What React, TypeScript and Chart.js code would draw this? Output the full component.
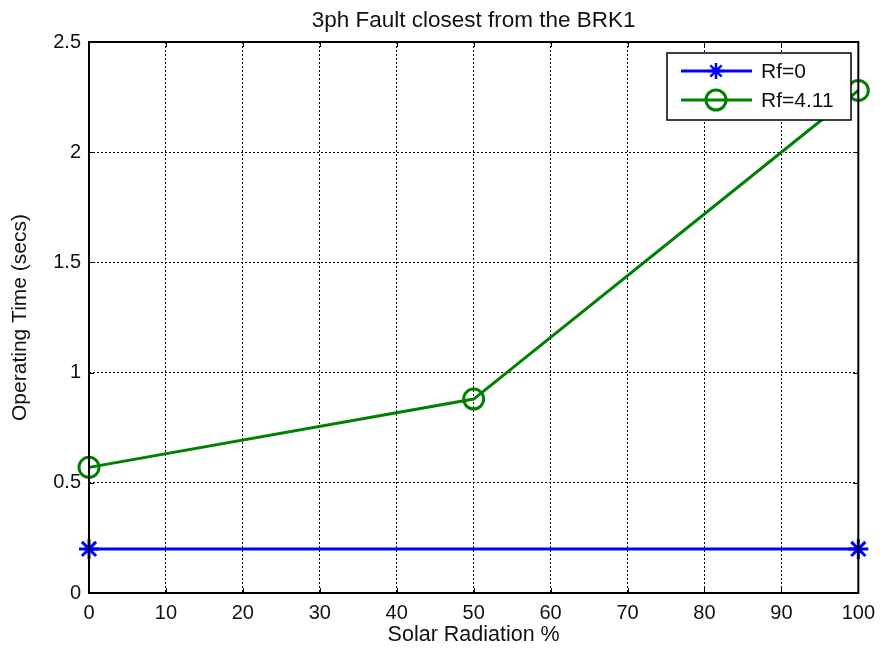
import React, { useEffect, useRef } from "react";
import { Chart, registerables } from "chart.js";

Chart.register(...registerables);

const titleText = "3ph Fault closest from the BRK1";
const xAxisTitle = "Solar Radiation %";
const yAxisTitle = "Operating Time (secs)";

const rf0Label = "Rf=0";
const rf0X = [0, 100];
const rf0Y = [0.2, 0.2];

const rf411Label = "Rf=4.11";
const rf411X = [0, 50, 100];
const rf411Y = [0.57, 0.88, 2.28];

const xTicks = [0, 10, 20, 30, 40, 50, 60, 70, 80, 90, 100];
const yTicks = [0, 0.5, 1, 1.5, 2, 2.5];

const BLUE = "#0000ff";
const GREEN = "#008000";
const FONT = "'Liberation Sans', Arial, sans-serif";

const titlePlugin = {
  id: "axesTitle",
  afterDraw(chart: any) {
    const { ctx, chartArea: a } = chart;
    ctx.save();
    ctx.fillStyle = "#111";
    ctx.font = `22.5px ${FONT}`;
    ctx.textAlign = "center";
    ctx.textBaseline = "alphabetic";
    ctx.fillText(titleText, (a.left + a.right) / 2, 27);
    ctx.restore();
  },
};

const framePlugin = {
  id: "frame",
  afterDatasetsDraw(chart: any) {
    const { ctx, chartArea: a, scales } = chart;
    ctx.save();
    ctx.strokeStyle = "#000";
    ctx.lineWidth = 1;
    const tl = 5;
    xTicks.forEach((v) => {
      const x = Math.round(scales.x.getPixelForValue(v)) + 0.5;
      ctx.beginPath();
      ctx.moveTo(x, a.bottom);
      ctx.lineTo(x, a.bottom - tl);
      ctx.moveTo(x, a.top);
      ctx.lineTo(x, a.top + tl);
      ctx.stroke();
    });
    yTicks.forEach((v) => {
      const y = Math.round(scales.y.getPixelForValue(v)) + 0.5;
      ctx.beginPath();
      ctx.moveTo(a.left, y);
      ctx.lineTo(a.left + tl, y);
      ctx.moveTo(a.right, y);
      ctx.lineTo(a.right - tl, y);
      ctx.stroke();
    });
    ctx.lineWidth = 2;
    ctx.strokeRect(a.left, a.top, a.right - a.left, a.bottom - a.top);
    ctx.restore();
  },
};

const legendPlugin = {
  id: "innerLegend",
  afterDraw(chart: any) {
    const { ctx } = chart;
    const bx = 667, by = 53, bw = 184, bh = 67;
    ctx.save();
    ctx.fillStyle = "#fff";
    ctx.fillRect(bx, by, bw, bh);
    ctx.strokeStyle = "#000";
    ctx.lineWidth = 1.5;
    ctx.strokeRect(bx, by, bw, bh);
    const rows = [
      { label: rf0Label, color: BLUE, style: "star", y: by + 18 },
      { label: rf411Label, color: GREEN, style: "circle", y: by + 47 },
    ];
    rows.forEach((r) => {
      ctx.strokeStyle = r.color;
      ctx.lineWidth = 3;
      ctx.beginPath();
      ctx.moveTo(bx + 14, r.y);
      ctx.lineTo(bx + 85, r.y);
      ctx.stroke();
      const cx = bx + 49;
      if (r.style === "star") {
        ctx.lineWidth = 2.5;
        const rad = 8;
        ctx.beginPath();
        for (let i = 0; i < 4; i++) {
          const ang = (i * Math.PI) / 4;
          ctx.moveTo(cx - rad * Math.cos(ang), r.y - rad * Math.sin(ang));
          ctx.lineTo(cx + rad * Math.cos(ang), r.y + rad * Math.sin(ang));
        }
        ctx.stroke();
      } else {
        ctx.lineWidth = 3;
        ctx.beginPath();
        ctx.arc(cx, r.y, 10, 0, Math.PI * 2);
        ctx.stroke();
      }
      ctx.fillStyle = "#111";
      ctx.font = `21px ${FONT}`;
      ctx.textBaseline = "middle";
      ctx.textAlign = "left";
      ctx.fillText(r.label, bx + 94, r.y + 1);
    });
    ctx.restore();
  },
};

export default function App() {
  const ref = useRef<HTMLCanvasElement>(null);
  useEffect(() => {
    if (!ref.current) return;
    const chart = new Chart(ref.current, {
      type: "line",
      data: {
        datasets: [
          {
            label: rf0Label,
            data: rf0X.map((x, i) => ({ x, y: rf0Y[i] })),
            borderColor: BLUE,
            backgroundColor: BLUE,
            borderWidth: 3,
            pointStyle: "star",
            pointRadius: 10,
            pointBorderWidth: 3,
            pointBorderColor: BLUE,
            clip: false,
          } as any,
          {
            label: rf411Label,
            data: rf411X.map((x, i) => ({ x, y: rf411Y[i] })),
            borderColor: GREEN,
            backgroundColor: "rgba(0,0,0,0)",
            borderWidth: 3,
            pointStyle: "circle",
            pointRadius: 10,
            pointBorderWidth: 3,
            pointBorderColor: GREEN,
            pointBackgroundColor: "rgba(0,0,0,0)",
            clip: false,
          } as any,
        ],
      },
      options: {
        animation: false,
        responsive: false,
        maintainAspectRatio: false,
        layout: { padding: { top: 42, right: 23, left: 0, bottom: 0 } },
        plugins: {
          legend: { display: false },
          tooltip: { enabled: false },
          title: { display: false },
        },
        scales: {
          x: {
            type: "linear",
            min: 0,
            max: 100,
            afterBuildTicks: (s: any) => {
              s.ticks = xTicks.map((v) => ({ value: v }));
            },
            afterFit: (s: any) => {
              s.height = 57;
            },
            ticks: {
              color: "#111",
              font: { family: FONT, size: 20 },
              padding: 8,
              maxRotation: 0,
            },
            grid: {
              color: "#000",
              lineWidth: 1,
              drawTicks: false,
            },
            border: { display: false, dash: [2, 2] },
            title: {
              display: true,
              text: xAxisTitle,
              color: "#111",
              font: { family: FONT, size: 21.5 },
              padding: { top: 0, bottom: 2 },
            },
          },
          y: {
            type: "linear",
            min: 0,
            max: 2.5,
            afterBuildTicks: (s: any) => {
              s.ticks = yTicks.map((v) => ({ value: v }));
            },
            afterFit: (s: any) => {
              s.width = 89;
            },
            ticks: {
              color: "#111",
              font: { family: FONT, size: 20 },
              padding: 8,
              callback: (v: any) => String(v),
            },
            grid: {
              color: "#000",
              lineWidth: 1,
              drawTicks: false,
            },
            border: { display: false, dash: [2, 2] },
            title: {
              display: true,
              text: yAxisTitle,
              color: "#111",
              font: { family: FONT, size: 21 },
              padding: { top: 8, bottom: 0 },
            },
          },
        },
      },
      plugins: [framePlugin, legendPlugin, titlePlugin],
    });
    return () => chart.destroy();
  }, []);
  return (
    <div style={{ position: "fixed", left: 0, top: 0, width: 883, height: 650, background: "#fff" }}>
      <canvas ref={ref} width={883} height={650} style={{ width: 883, height: 650 }} />
    </div>
  );
}
